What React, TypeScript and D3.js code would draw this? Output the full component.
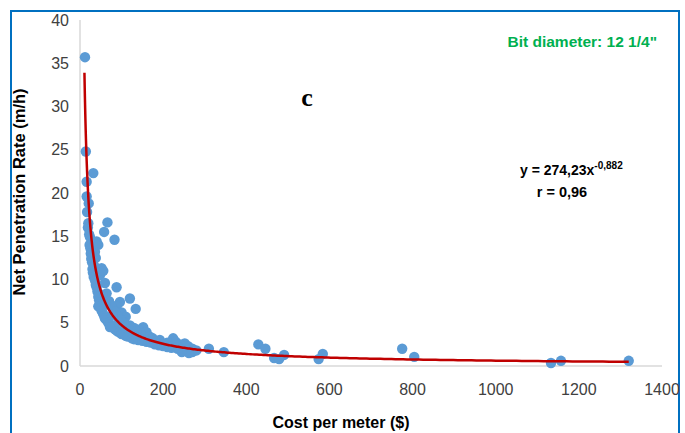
import React from "react";
import * as d3 from "d3";

const costPerMeter: number[] = [
  12, 14, 16, 32, 16, 17, 20, 19, 22, 24, 23, 25, 26, 27, 29, 30, 31, 33, 36, 38, 40, 42, 44, 46, 48, 44, 50, 52, 55, 58,
  60, 64, 68, 72, 76, 80, 85, 90, 95, 100, 110, 115, 125, 130, 140, 150, 160, 170, 180, 190, 200, 210, 220, 235, 250, 260, 270,
  40, 44, 36, 38, 52, 48, 56, 60, 64, 88, 66, 58, 83, 120, 96, 134, 88, 100, 110, 72, 100, 120, 152, 140, 160, 168, 192, 224,
  252, 230, 260, 240, 70, 76, 84, 90, 105, 130, 145, 115, 135, 175, 210, 250, 270, 280, 262, 245,
  21, 28, 34, 54, 62, 78, 92, 108, 128, 155, 185, 215, 238,
  310, 346, 429, 446, 467, 479, 491, 574, 584, 775, 804, 1133, 1157, 1320,
];
const netPenetrationRate: number[] = [
  35.7, 24.8, 21.3, 22.3, 19.6, 17.8, 16.5, 16.0, 15.2, 14.9, 14.0, 13.6, 13.0, 12.4, 12.0, 11.2, 10.8, 10.3, 9.9, 9.4, 9.1, 8.6, 8.0, 7.6, 7.2, 6.9, 6.7, 6.4, 6.1, 5.8,
  5.5, 5.3, 5.0, 4.8, 4.6, 4.4, 4.2, 4.0, 3.9, 3.7, 3.5, 3.4, 3.2, 3.1, 3.0, 2.9, 2.8, 2.7, 2.5, 2.4, 2.3, 2.2, 2.1, 2.0, 1.9, 1.7, 1.6,
  14.4, 14.0, 13.2, 12.5, 11.3, 10.5, 11.0, 9.6, 8.4, 9.1, 16.6, 15.5, 14.6, 7.8, 7.4, 6.6, 6.9, 6.2, 5.7, 4.5, 5.3, 4.7, 4.5, 4.2, 3.9, 3.4, 3.0, 3.2,
  2.6, 2.8, 2.3, 2.5, 7.5, 7.0, 6.3, 5.8, 5.0, 4.4, 3.8, 4.3, 4.0, 3.2, 2.7, 2.3, 2.0, 1.8, 1.5, 1.6,
  18.8, 13.1, 11.6, 8.2, 7.1, 5.9, 5.1, 4.5, 3.7, 3.1, 2.6, 2.3, 2.1,
  2.0, 1.6, 2.5, 2.0, 0.93, 0.8, 1.28, 0.8, 1.4, 2.0, 1.05, 0.35, 0.6, 0.6,
];
const xTicks: number[] = [0, 200, 400, 600, 800, 1000, 1200, 1400];
const yTicks: number[] = [0, 5, 10, 15, 20, 25, 30, 35, 40];
const trendCoef = 274.23;
const trendExp = -0.882;
const trendRange: [number, number] = [10.7, 1320];

const W = 685;
const H = 433;
const X0 = 80;
const X1 = 662;
const Y0 = 366;
const Y1 = 20;

const FONT = "'Liberation Sans', Arial, sans-serif";
const NARROW = "'Liberation Sans Narrow', 'Arial Narrow', 'Liberation Sans', sans-serif";

export default function App() {
  const x = d3.scaleLinear().domain([0, 1400]).range([X0, X1]);
  const y = d3.scaleLinear().domain([0, 40]).range([Y0, Y1]);

  const trendXs = d3.range(0, 401).map((i) => {
    const t = i / 400;
    return Math.exp(Math.log(trendRange[0]) + t * (Math.log(trendRange[1]) - Math.log(trendRange[0])));
  });
  const line = d3
    .line<number>()
    .x((d) => x(d))
    .y((d) => y(trendCoef * Math.pow(d, trendExp)));

  const pts = costPerMeter.map((c, i) => ({ c, r: netPenetrationRate[i] }));

  return (
    <svg
      width={W}
      height={H}
      style={{ position: "fixed", left: 0, top: 0, background: "#fff" }}
      fontFamily={FONT}
    >
      <rect x={0} y={0} width={W} height={H} fill="#fff" />
      <rect x={11} y={11} width={668} height={440} fill="none" stroke="#0070C0" strokeWidth={2} />

      {/* axes */}
      <line x1={X0} x2={X0} y1={Y1} y2={Y0} stroke="#D9D9D9" strokeWidth={1.5} />
      <line x1={X0} x2={X1} y1={Y0} y2={Y0} stroke="#D9D9D9" strokeWidth={1.5} />

      {yTicks.map((t) => (
        <text key={"y" + t} x={69} y={y(t)} dy="0.35em" textAnchor="end" fontSize={16} fontFamily={NARROW} fill="#404040">
          {t}
        </text>
      ))}
      {xTicks.map((t) => (
        <text key={"x" + t} x={x(t)} y={389} dy="0.35em" textAnchor="middle" fontSize={16} fontFamily={NARROW} fill="#404040">
          {t}
        </text>
      ))}

      {/* points */}
      {pts.map((p, i) => (
        <circle key={i} cx={x(p.c)} cy={y(p.r)} r={5.2} fill="#5B9BD5" />
      ))}

      {/* trendline */}
      <path d={line(trendXs) || ""} fill="none" stroke="#C00000" strokeWidth={2.5} />

      {/* titles */}
      <text x={341} y={428} textAnchor="middle" fontSize={16} fontWeight="bold" fill="#000">
        Cost per meter ($)
      </text>
      <text
        transform={`translate(25,192) rotate(-90)`}
        textAnchor="middle"
        fontSize={16.5}
        fontWeight="bold"
        fill="#000"
      >
        Net Penetration Rate (m/h)
      </text>

      <text x={657} y={47} textAnchor="end" fontSize={15.5} fontWeight="bold" fill="#00B050">
        Bit diameter: 12 1/4"
      </text>

      <text x={307} y={106} textAnchor="middle" fontSize={26} fontWeight="bold" fontFamily="'Liberation Serif', 'DejaVu Serif', serif" fill="#000">
        c
      </text>

      <text x={520} y={175} fontSize={14} fontWeight="bold" fill="#000">
        y = 274,23x
        <tspan dy={-6} fontSize={10}>-0,882</tspan>
      </text>
      <text x={562} y={197} textAnchor="middle" fontSize={14.5} fontWeight="bold" fill="#000">
        r = 0,96
      </text>
    </svg>
  );
}
